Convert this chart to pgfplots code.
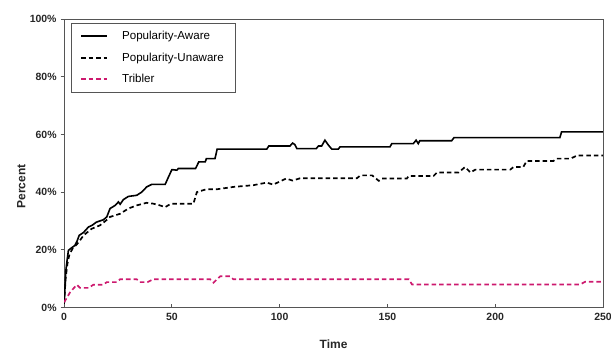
\documentclass[border=0pt]{standalone}
\usepackage{pgfplots}
\pgfplotsset{compat=1.18}
\usepackage{fontspec}
\setmainfont{Liberation Sans}
\definecolor{trib}{RGB}{205,25,110}
\definecolor{frame}{RGB}{85,85,85}
\begin{document}
\begin{tikzpicture}
\begin{axis}[
  name=ax,
  scale only axis,
  width=538bp, height=288bp,
  xmin=0, xmax=250, ymin=0, ymax=100,
  xtick={0,50,100,150,200,250},
  ytick={0,20,40,60,80,100},
  yticklabel={\pgfmathprintnumber{\tick}\%},
  /pgf/number format/assume math mode=true,
  tick label style={font=\fontsize{10.5}{12}\selectfont\bfseries, text=black!85},
  axis line style={frame, line width=0.9pt},
  xtick style={frame, line width=0.8pt},
  ytick style={frame, line width=0.8pt},
  xtick pos=bottom, ytick pos=left,
  xtick align=inside, ytick align=outside,
  major tick length=3.5bp,
  xlabel={Time}, ylabel={Percent},
  label style={font=\fontsize{12}{14}\selectfont\bfseries, text=black!85},
  xlabel style={at={(axis description cs:0.5,0)}, anchor=north, yshift=-29bp},
  ylabel style={at={(axis description cs:0,0.42)}, anchor=south, yshift=35bp},
  xticklabel style={yshift=-2bp},
  yticklabel style={xshift=-0.5bp},
  legend style={at={(axis description cs:0.0124,0.986)}, anchor=north west,
    draw=frame, font=\fontsize{11.6}{13}\selectfont,
    inner xsep=9bp, inner ysep=6bp, row sep=7.5bp,
    /tikz/every odd column/.append style={column sep=12bp}},
  legend cell align=left,
  legend image post style={line width=2pt},
  legend image code/.code={\draw[#1] (0cm,0cm) -- (0.92cm,0cm);},
]
\addplot[black, line width=1.6pt] coordinates {
(0,1.3) (0.5,8) (0.8,12.8) (1.5,17) (2,19.8) (3.5,20.7) (5,21.5) (6,23) (7,25) (9,26)
(11.3,27.9) (13,28.5) (15,29.6) (18.2,30.4) (19.8,31.4) (21.3,34.3) (23.7,35.4) (25.2,36.6)
(26,35.8) (27.5,37.4) (29.8,38.5) (33.7,38.9) (36,40) (38.3,41.8) (40.7,42.7) (46.9,42.7)
(48.4,45.2) (50,47.8) (52.3,47.6) (53,48.2) (61,48.2) (62.5,50.5) (65.5,50.5) (66,51.6)
(70,51.6) (71,54.9) (94,54.9) (95,56) (104.8,56) (106,57) (107,56.5) (108,55.1) (117,55.1)
(118,56) (119.5,56) (121,58) (122.6,56.3) (124.2,54.9) (127.2,54.9) (128,55.7) (151.2,55.7)
(152,56.8) (162,56.8) (163.3,58) (164.3,56.8) (165,57.8) (179.8,57.8) (180.9,58.9) (230,58.9)
(230.8,60.9) (250,60.9)};
\addlegendentry{Popularity-Aware}
\addplot[black, line width=1.7pt, dash pattern=on 4.5bp off 3bp] coordinates {
(0,1.3) (0.7,10) (1.5,15) (2.5,18.5) (4,20.5) (6,22) (7.4,23.3) (9,25) (12.8,27.3) (16.7,28.5)
(20,30.5) (21.3,31.4) (26,32.5) (29.8,34.3) (33.7,35.4) (38.3,36.3) (41.3,36) (44,35.5)
(46.9,34.8) (49.6,36) (60,36) (61.6,40) (66,41) (71,41) (78.5,41.8) (87.8,42.4) (94,43.3)
(97,42.6) (103,44.7) (106,44) (109.5,44.8) (135.8,44.8) (137.5,45.8) (142.9,45.8) (146,43.9)
(147.5,44.7) (159,44.7) (159.9,45.6) (171.4,45.6) (173,46.8) (183,46.8) (186,48.7) (188.5,46.8)
(190.8,47.8) (207,47.8) (208.5,48.7) (213,48.7) (214.6,50.8) (227,50.8) (228.5,51.6)
(234.9,51.6) (238,52.7) (250,52.7)};
\addlegendentry{Popularity-Unaware}
\addplot[trib, line width=1.7pt, dash pattern=on 4.5bp off 3bp] coordinates {
(0,1.8) (2.8,5.3) (5.9,7.9) (7.4,6.8) (11.3,6.8) (13.6,7.9) (18.2,7.9) (19.8,8.8) (24.4,8.8)
(26,9.8) (33.7,9.8) (35,8.8) (38.7,8.8) (41.4,9.8) (67.7,9.8) (69.3,8.6) (72.4,10.8) (77,10.8)
(78.5,9.8) (159.9,9.8) (161.4,8) (239.4,8) (241.7,8.9) (250,8.9)};
\addlegendentry{Tribler}
\end{axis}
\pgfresetboundingbox
\path[use as bounding box] ([xshift=-64bp,yshift=-44bp]ax.south west) rectangle ([xshift=8bp,yshift=19bp]ax.north east);
\end{tikzpicture}
\end{document}
